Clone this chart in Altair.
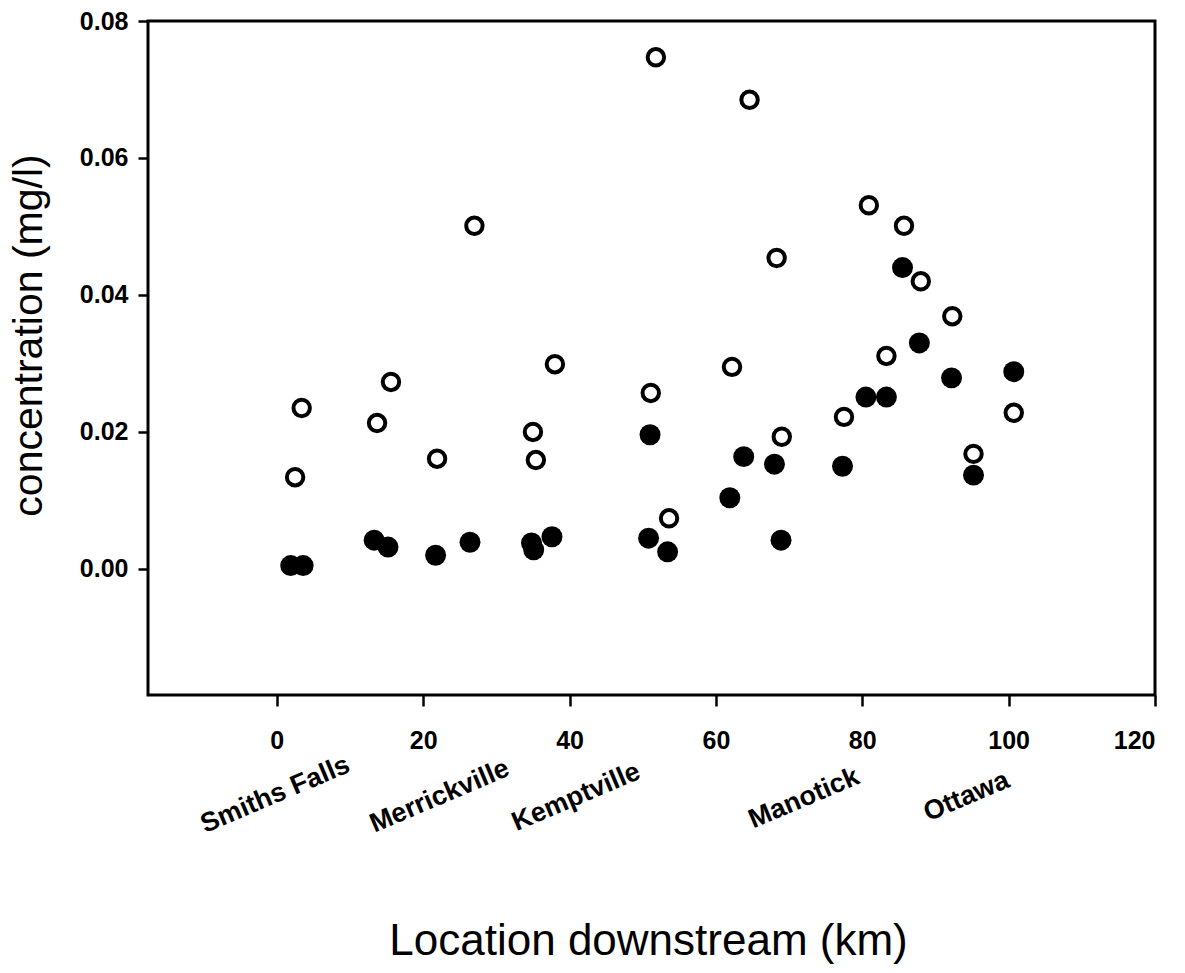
import altair as alt
import pandas as pd

# Hollow markers: distance downstream (km) and concentration (mg/l)
open_km = [2.5, 3.4, 13.7, 15.6, 21.9, 27.0, 35.0, 35.4, 38.0, 51.1, 51.8, 53.6,
           62.2, 64.6, 68.3, 69.0, 77.5, 80.9, 83.3, 85.7, 88.0, 92.3, 95.2, 100.7]
open_conc = [0.0134, 0.0235, 0.0213, 0.0273, 0.0161, 0.0501, 0.0200, 0.0159, 0.0299,
             0.0257, 0.0747, 0.0074, 0.0295, 0.0685, 0.0454, 0.0193, 0.0222, 0.0531,
             0.0311, 0.0501, 0.0420, 0.0369, 0.0168, 0.0228]

# Solid markers
filled_km = [1.9, 3.6, 13.3, 15.2, 21.7, 26.4, 34.8, 35.1, 37.6, 50.8, 53.4, 51.0,
             61.9, 63.8, 68.0, 68.9, 77.3, 80.5, 83.3, 87.8, 92.2, 100.7, 95.2, 85.5]
filled_conc = [0.0005, 0.0005, 0.0042, 0.0032, 0.0020, 0.0039, 0.0038, 0.0028, 0.0047,
               0.0045, 0.0025, 0.0196, 0.0104, 0.0164, 0.0153, 0.0042, 0.0150, 0.0251,
               0.0251, 0.0330, 0.0279, 0.0288, 0.0137, 0.0440]

# Towns along the river; each label ends at the town's distance
town_names = ["Smiths Falls", "Merrickville", "Kemptville", "Manotick", "Ottawa"]
town_km = [9.8, 31.6, 49.5, 79.4, 99.9]

x_ticks = [0, 20, 40, 60, 80, 100, 120]
y_ticks = [0.0, 0.02, 0.04, 0.06, 0.08]

FONT = "Liberation Sans"

open_df = pd.DataFrame({"km": open_km, "conc": open_conc})
filled_df = pd.DataFrame({"km": filled_km, "conc": filled_conc})
town_df = pd.DataFrame({"km": town_km, "name": town_names})

x_enc = alt.X(
    "km:Q",
    scale=alt.Scale(domain=[-17.6, 120], nice=False, zero=False),
    axis=alt.Axis(
        values=x_ticks,
        format="d",
        title="Location downstream (km)",
        titleFont=FONT,
        titleFontSize=44,
        titleFontWeight="normal",
        titleColor="black",
        titleX=500,
        titleY=259,
        titleAlign="center",
        titleBaseline="alphabetic",
        labelFont=FONT,
        labelFontSize=25,
        labelFontWeight="bold",
        labelColor="black",
        labelPadding=22,
        tickSize=11,
        tickWidth=2.5,
        tickColor="black",
        domain=False,
        grid=False,
    ),
)

y_enc = alt.Y(
    "conc:Q",
    scale=alt.Scale(domain=[-0.0184, 0.08], nice=False, zero=False),
    axis=alt.Axis(
        values=y_ticks,
        format=".2f",
        title="concentration (mg/l)",
        titleFont=FONT,
        titleFontSize=41,
        titleFontWeight="normal",
        titleColor="black",
        titleX=-119,
        titleY=314,
        titleAlign="center",
        titleBaseline="middle",
        labelFont=FONT,
        labelFontSize=25,
        labelFontWeight="bold",
        labelColor="black",
        labelPadding=10,
        tickSize=10,
        tickWidth=2.5,
        tickColor="black",
        domain=False,
        grid=False,
    ),
)

hollow = alt.Chart(open_df).mark_point(
    shape="circle", filled=False, stroke="black", strokeWidth=4, size=270, opacity=1
).encode(x=x_enc, y=y_enc)

solid = alt.Chart(filled_df).mark_point(
    shape="circle", filled=True, fill="black", stroke="black", strokeWidth=0, size=440, opacity=1
).encode(x=x_enc, y=y_enc)

# Town names sit on a slightly tilted line below the tick labels
towns = alt.Chart(town_df).transform_calculate(
    label_y="741 + 0.17 * datum.km"
).mark_text(
    angle=337, font=FONT, fontSize=27, fontWeight="bold", color="black",
    align="right", baseline="middle"
).encode(
    x=alt.X("km:Q"),
    y=alt.Y("label_y:Q", scale=None),
    text="name:N",
)

chart = alt.layer(hollow, solid, towns).properties(
    width=1007,
    height=674,
    autosize=alt.AutoSizeParams(type="none"),
    padding={"left": 148, "top": 21, "right": 30, "bottom": 278},
    background="white",
).configure_view(
    stroke="black", strokeWidth=3
)

chart.save("out.html", embed_options={"renderer": "svg", "actions": False})
